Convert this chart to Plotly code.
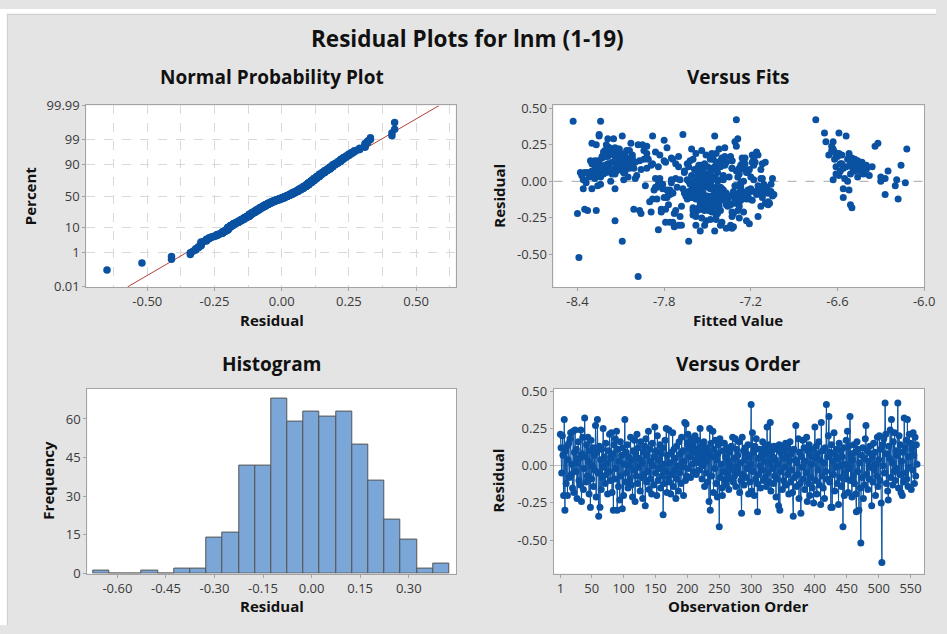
import numpy as np
import plotly.graph_objects as go
from statistics import NormalDist

W, H = 947, 634

# ---------------- data ----------------
residuals = [
    0.21, 0.12, -0.05, 0.20, 0.07, -0.20, 0.31, -0.30, 0.10, -0.12, 0.13, -0.20, 0.04, 0.15, -0.08, 0.18, 0.22, -0.06, 0.01, -0.15,
    0.23, -0.18, 0.09, 0.24, -0.04, 0.11, -0.22, 0.02, 0.16, -0.10, 0.05, -0.13, 0.24, -0.24, 0.08, 0.19, -0.16, -0.02, 0.32, 0.06,
    -0.11, 0.14, -0.07, 0.19, 0.03, -0.19, 0.10, -0.28, 0.17, -0.09, 0.00, 0.12, -0.14, 0.07, -0.03, 0.27, -0.21, 0.09, 0.31, -0.05,
    -0.34, 0.13, -0.28, 0.04, -0.16, 0.11, -0.08, 0.25, -0.01, 0.06, -0.12, 0.15, -0.06, 0.02, -0.19, 0.10, -0.04, 0.21, -0.10, 0.05,
    0.22, -0.18, 0.08, -0.30, 0.14, -0.09, 0.18, -0.02, 0.23, -0.30, 0.11, -0.14, 0.03, -0.23, 0.16, -0.07, 0.07, -0.29, 0.12, -0.20,
    0.01, 0.31, -0.11, 0.09, -0.05, 0.14, -0.15, 0.06, 0.00, -0.09, 0.19, -0.13, 0.04, -0.21, 0.10, -0.03, 0.17, -0.24, 0.08, -0.07,
    0.21, -0.12, 0.12, -0.01, 0.05, -0.17, 0.16, -0.08, 0.02, -0.22, 0.09, -0.06, 0.13, -0.27, 0.18, -0.11, 0.07, -0.04, 0.23, -0.16,
    0.11, -0.09, 0.03, -0.19, 0.15, 0.00, -0.13, 0.06, 0.26, -0.05, 0.10, -0.20, 0.20, -0.10, 0.04, -0.02, 0.14, -0.15, 0.08, -0.07,
    0.12, -0.33, 0.01, -0.12, 0.17, -0.04, 0.25, -0.18, 0.07, -0.08, 0.24, -0.11, 0.02, -0.19, 0.09, -0.06, 0.22, -0.14, 0.11, -0.03,
    0.05, -0.22, 0.13, -0.09, 0.00, -0.17, 0.16, -0.05, 0.08, -0.12, 0.19, -0.01, 0.10, -0.20, 0.03, 0.29, -0.10, 0.28, -0.07, 0.15,
    0.21, -0.02, 0.12, 0.06, -0.08, 0.18, 0.10, 0.01, 0.14, -0.04, 0.09, 0.20, 0.04, -0.06, 0.11, 0.17, 0.02, 0.08, -0.03, 0.25,
    0.13, 0.05, -0.09, 0.10, 0.00, 0.16, -0.14, 0.07, -0.05, 0.12, 0.03, -0.11, 0.09, -0.24, 0.25, -0.30, 0.15, -0.07, 0.06, 0.23,
    -0.18, 0.11, -0.02, 0.17, -0.12, 0.04, -0.21, 0.08, 0.14, -0.41, 0.18, -0.08, 0.01, -0.15, -0.20, 0.10, -0.04, 0.15, -0.10, 0.06,
    -0.13, 0.12, -0.06, 0.03, -0.16, 0.09, 0.00, -0.09, 0.13, -0.03, 0.19, -0.11, 0.05, -0.07, 0.18, -0.14, 0.11, -0.01, 0.07, -0.05,
    0.16, -0.18, 0.02, -0.10, -0.32, 0.19, -0.06, 0.10, -0.13, 0.04, 0.12, -0.08, 0.08, -0.02, 0.14, -0.19, 0.06, -0.11, 0.01, 0.41,
    -0.17, 0.22, -0.04, 0.09, -0.20, 0.13, -0.09, 0.18, -0.12, -0.31, 0.05, -0.06, 0.11, 0.00, -0.15, 0.07, -0.03, 0.16, -0.10, 0.03,
    0.12, -0.08, 0.08, -0.14, 0.26, -0.05, 0.14, -0.11, 0.02, 0.29, -0.17, 0.10, -0.02, 0.06, -0.12, 0.13, -0.07, 0.04, -0.21, 0.11,
    -0.09, 0.01, -0.27, 0.14, -0.30, 0.09, -0.04, 0.13, -0.16, 0.05, -0.10, 0.10, -0.01, 0.15, -0.13, 0.07, -0.06, 0.12, -0.19, 0.03,
    0.16, -0.11, 0.08, -0.03, -0.18, -0.34, 0.11, -0.08, 0.04, 0.27, -0.14, 0.02, -0.06, 0.18, -0.22, 0.09, -0.12, -0.32, 0.06, -0.01,
    0.17, -0.09, 0.12, -0.16, 0.03, -0.05, 0.19, -0.24, 0.10, -0.12, 0.14, -0.20, 0.07, -0.08, 0.01, -0.15, 0.11, -0.25, 0.05, 0.26,
    -0.10, 0.13, -0.19, 0.08, -0.03, 0.16, -0.13, 0.04, -0.26, 0.29, -0.07, 0.10, -0.15, 0.02, -0.22, 0.12, -0.04, 0.41, -0.09, 0.06,
    0.20, 0.33, -0.11, 0.09, -0.28, 0.14, -0.28, 0.03, -0.06, 0.22, -0.17, 0.07, -0.01, 0.11, -0.12, 0.05, -0.26, 0.15, -0.08, 0.00,
    0.10, -0.14, 0.06, -0.41, 0.12, -0.20, 0.01, -0.05, 0.17, -0.09, 0.23, -0.18, 0.13, -0.02, 0.33, -0.10, 0.08, -0.21, 0.04, -0.07,
    0.14, -0.12, 0.09, -0.19, -0.31, 0.16, -0.04, 0.11, -0.30, 0.02, -0.15, -0.52, 0.07, -0.08, 0.12, -0.22, 0.05, -0.13, 0.18, 0.27,
    -0.06, 0.10, -0.16, 0.03, -0.09, 0.13, -0.01, 0.08, -0.27, 0.06, -0.11, 0.15, -0.03, 0.09, -0.20, 0.01, -0.07, 0.19, -0.14, 0.04,
    0.20, -0.10, 0.11, -0.25, -0.65, 0.14, 0.00, 0.18, -0.05, 0.42, 0.21, -0.12, 0.08, -0.17, -0.23, 0.13, 0.05, 0.24, -0.08, 0.31,
    0.02, -0.13, 0.16, -0.04, 0.22, -0.10, 0.10, -0.02, 0.07, 0.42, -0.15, 0.20, -0.06, 0.14, -0.18, 0.03, -0.20, 0.09, -0.11, 0.32,
    0.12, -0.05, 0.17, -0.09, 0.31, -0.14, 0.06, 0.21, -0.01, 0.15, -0.16, 0.11, -0.03, 0.22, 0.07, -0.12, 0.19, -0.07, 0.14, 0.01,
]

fitted = [
    -8.21, -8.05, -7.48, -8.17, -6.58, -7.41, -8.25, -7.58, -8.12, -7.36, -7.79, -8.33, -7.52, -6.62, -7.74, -8.02, -7.61, -7.12, -8.36, -7.55,
    -8.14, -7.47, -7.33, -7.92, -7.56, -8.28, -8.40, -7.86, -7.75, -7.50, -6.51, -7.27, -6.64, -7.69, -8.19, -7.44, -7.08, -7.62, -7.67, -8.08,
    -7.43, -8.31, -7.20, -8.10, -7.46, -7.53, -6.47, -7.74, -8.23, -7.77, -7.59, -7.88, -7.31, -8.13, -7.93, -6.63, -7.25, -7.54, -8.09, -6.56,
    -7.45, -8.16, -7.40, -7.61, -7.49, -7.18, -7.57, -8.20, -7.83, -8.27, -7.64, -7.48, -7.22, -8.00, -8.35, -6.44, -7.71, -7.94, -7.05, -7.28,
    -7.42, -7.60, -8.11, -7.70, -8.06, -7.76, -7.83, -7.11, -8.18, -7.34, -7.56, -7.90, -8.24, -7.44, -7.26, -7.63, -6.49, -7.21, -8.30, -7.52,
    -7.39, -7.88, -7.55, -8.22, -7.81, -7.97, -7.47, -7.66, -6.53, -7.16, -8.15, -7.19, -7.50, -7.89, -7.84, -8.26, -6.60, -7.58, -7.24, -7.45,
    -8.04, -7.40, -7.72, -7.57, -8.32, -7.28, -8.12, -7.07, -7.72, -7.96, -7.25, -7.43, -6.46, -8.14, -7.51, -7.62, -8.07, -7.85, -7.78, -7.46,
    -8.20, -7.54, -7.20, -7.79, -7.60, -8.17, -7.51, -8.35, -6.32, -7.14, -7.45, -7.29, -8.22, -7.65, -6.59, -7.48, -8.03, -7.42, -7.13, -7.56,
    -7.26, -7.84, -7.75, -7.23, -8.19, -7.60, -7.98, -7.52, -8.28, -7.09, -7.30, -7.47, -6.55, -8.01, -7.92, -7.87, -8.11, -7.55, -6.40, -7.31,
    -7.53, -7.73, -8.13, -7.04, -7.25, -7.68, -7.40, -8.30, -7.59, -7.21, -6.52, -7.49, -8.25, -7.57, -7.35, -8.19, -7.61, -7.80, -7.17, -7.46,
    -7.54, -7.81, -8.02, -8.38, -7.13, -7.19, -7.50, -7.64, -8.28, -7.27, -6.56, -7.86, -7.39, -7.45, -8.09, -7.34, -6.27, -7.58, -7.52, -7.95,
    -7.37, -8.16, -7.62, -7.70, -7.43, -8.23, -7.28, -6.48, -7.56, -7.12, -8.05, -7.78, -7.48, -7.15, -8.27, -7.52, -7.91, -7.06, -7.22, -7.38,
    -7.45, -7.27, -7.84, -8.21, -7.58, -8.31, -7.33, -7.47, -7.62, -8.09, -8.12, -7.53, -7.18, -7.10, -7.97, -6.61, -7.44, -7.74, -7.30, -8.20,
    -7.50, -8.18, -7.76, -7.29, -7.37, -8.04, -7.55, -7.24, -6.43, -7.60, -7.47, -7.12, -8.26, -7.32, -8.15, -7.54, -7.38, -8.34, -7.66, -7.20,
    -8.09, -7.51, -7.83, -7.39, -7.37, -7.58, -7.27, -8.11, -7.44, -7.53, -6.58, -7.08, -7.96, -8.24, -7.33, -7.48, -8.29, -7.61, -7.42, -8.43,
    -7.36, -8.17, -7.50, -7.26, -8.27, -7.44, -7.59, -6.66, -7.49, -7.73, -8.14, -7.78, -7.89, -6.30, -7.31, -7.55, -7.15, -8.06, -7.57, -8.32,
    -7.52, -7.74, -8.22, -7.45, -8.30, -7.67, -7.41, -7.56, -7.05, -8.15, -7.43, -6.50, -7.48, -7.23, -7.30, -8.00, -7.54, -8.37, -7.47, -7.40,
    -7.44, -8.08, -7.51, -7.80, -7.68, -7.28, -7.86, -8.25, -7.34, -7.51, -7.62, -6.36, -7.58, -7.18, -7.42, -8.18, -7.11, -7.64, -7.55, -6.46,
    -8.13, -7.80, -7.53, -7.27, -7.43, -7.55, -8.21, -7.37, -7.99, -7.31, -7.50, -7.13, -7.61, -6.57, -7.32, -7.45, -7.26, -7.33, -8.33, -7.48,
    -7.38, -7.57, -8.19, -7.77, -7.56, -8.14, -7.92, -7.33, -6.54, -7.49, -8.26, -7.60, -7.30, -7.43, -7.69, -7.07, -8.10, -7.28, -6.42, -8.03,
    -7.47, -7.17, -7.82, -8.24, -7.49, -8.02, -7.29, -7.57, -7.44, -7.29, -7.54, -7.63, -7.46, -8.28, -7.59, -6.48, -7.09, -8.24, -7.22, -7.43,
    -8.20, -6.69, -7.52, -7.33, -7.76, -8.07, -7.79, -7.45, -7.60, -8.12, -7.42, -8.30, -7.27, -7.55, -7.44, -6.61, -7.48, -7.94, -7.14, -7.51,
    -7.41, -7.53, -8.15, -7.63, -7.24, -7.72, -7.47, -8.36, -7.70, -7.32, -8.18, -7.56, -6.45, -7.06, -6.59, -7.58, -7.21, -7.82, -6.38, -7.45,
    -8.11, -7.85, -7.57, -7.46, -7.32, -7.24, -7.54, -8.05, -7.41, -7.12, -7.50, -8.39, -7.29, -7.66, -6.51, -7.43, -8.22, -7.38, -7.15, -6.68,
    -7.39, -7.26, -7.52, -8.29, -7.44, -7.10, -7.75, -8.16, -7.23, -7.48, -7.61, -6.53, -7.30, -8.01, -7.49, -6.63, -7.57, -8.07, -7.08, -7.56,
    -7.16, -7.40, -8.13, -7.54, -7.98, -7.33, -7.63, -6.61, -7.46, -7.30, -8.06, -7.88, -6.40, -7.13, -7.60, -7.19, -7.52, -6.34, -7.28, -7.45,
    -7.50, -7.31, -6.50, -7.41, -6.63, -7.34, -6.47, -7.58, -6.44, -6.75, -7.36, -6.62, -6.52, -8.14, -6.50, -6.30, -7.48, -7.27, -6.56, -8.25,
    -6.57, -7.40, -6.52, -6.27, -6.54, -7.46, -8.08, -6.64, -6.13, -6.48, -6.51, -6.16, -6.20, -6.12, -6.25, -6.18, -6.59, -7.26, -6.46, -6.19,
]

hist_centers = [-0.65, -0.60, -0.55, -0.50, -0.45, -0.40, -0.35, -0.30, -0.25, -0.20, -0.15,
                -0.10, -0.05, 0.00, 0.05, 0.10, 0.15, 0.20, 0.25, 0.30, 0.35, 0.40]
hist_counts = [1, 0, 0, 1, 0, 2, 2, 14, 16, 42, 42, 68, 59, 63, 61, 63, 50, 36, 21, 13, 2, 4]

percent_ticks = [0.01, 1, 10, 50, 90, 99, 99.99]
percent_labels = ["0.01", "1", "10", "50", "90", "99", "99.99"]

npp_x_ticks = [-0.50, -0.25, 0.00, 0.25, 0.50]
fits_x_ticks = [-8.4, -7.8, -7.2, -6.6, -6.0]
resid_y_ticks = [-0.50, -0.25, 0.00, 0.25, 0.50]
hist_x_ticks = [-0.60, -0.45, -0.30, -0.15, 0.00, 0.15, 0.30]
hist_y_ticks = [0, 15, 30, 45, 60]
order_x_ticks = [1, 50, 100, 150, 200, 250, 300, 350, 400, 450, 500, 550]

# ---------------- derived quantities ----------------
nd = NormalDist()
n = min(len(residuals), len(fitted))
res = np.array(residuals[:n])
fit = np.array(fitted[:n])
obs = np.arange(1, n + 1)

srt = np.sort(res)
zq = [nd.inv_cdf((i - 0.3) / (n + 0.4)) for i in range(1, n + 1)]
mu, sd = float(res.mean()), float(res.std(ddof=1))
z_ticks = [nd.inv_cdf(p / 100.0) for p in percent_ticks]
zlim = z_ticks[-1]
line_z = [-zlim, zlim]
line_x = [mu + sd * z for z in line_z]

# ---------------- styling ----------------
BLUE = "#0A52A1"
FONT = "Open Sans"
TICKFONT = dict(family=FONT, size=13, color="#3A3A3A")
FRAME = "#A3A3A3"


def px(x):
    return x / W


def py(y):
    return 1 - y / H


def axis(**kw):
    d = dict(showline=True, linecolor=FRAME, linewidth=1, mirror=True,
             ticks="outside", ticklen=3, tickcolor=FRAME, tickfont=TICKFONT,
             zeroline=False, showgrid=False, fixedrange=True)
    d.update(kw)
    return d


fig = go.Figure()

# Normal probability plot
fig.add_trace(go.Scatter(x=line_x, y=line_z, mode="lines",
                         line=dict(color="#B5403C", width=1), xaxis="x", yaxis="y",
                         hoverinfo="skip"))
fig.add_trace(go.Scatter(x=srt, y=zq, mode="markers",
                         marker=dict(color=BLUE, size=7.5), xaxis="x", yaxis="y"))

# Versus fits
fig.add_trace(go.Scatter(x=fit, y=res, mode="markers",
                         marker=dict(color=BLUE, size=7), xaxis="x2", yaxis="y2"))

# Histogram
fig.add_trace(go.Bar(x=hist_centers, y=hist_counts, width=0.05,
                     marker=dict(color="#7BA6D8", line=dict(color="#555555", width=1)),
                     xaxis="x3", yaxis="y3"))

# Versus order
fig.add_trace(go.Scatter(x=obs, y=res, mode="lines+markers",
                         line=dict(color=BLUE, width=1),
                         marker=dict(color=BLUE, size=7), xaxis="x4", yaxis="y4"))

fig.update_layout(
    width=W, height=H, autosize=False,
    margin=dict(l=0, r=0, t=0, b=0, pad=0),
    paper_bgcolor="#E4E4E4", plot_bgcolor="white",
    showlegend=False, bargap=0,
    font=dict(family=FONT, color="#222222"),
    xaxis=axis(domain=[px(87.3), px(461)], anchor="y", range=[-0.727, 0.647],
               tickvals=npp_x_ticks, ticktext=[f"{v:.2f}" for v in npp_x_ticks],
               showgrid=True, gridcolor="#D9D9D9", griddash="dash",
               minor=dict(tickvals=[-0.625, -0.375, -0.125, 0.125, 0.375, 0.625],
                          showgrid=True, gridcolor="#D9D9D9", griddash="dash", ticklen=0)),
    yaxis=axis(domain=[py(286), py(99.3)], anchor="x", range=[-zlim, zlim],
               tickvals=z_ticks, ticktext=percent_labels,
               showgrid=True, gridcolor="#D9D9D9", griddash="dash"),
    xaxis2=axis(domain=[px(560), px(935)], anchor="y2", range=[-8.566, -6.0],
                tickvals=fits_x_ticks, ticktext=[f"{v:.1f}" for v in fits_x_ticks]),
    yaxis2=axis(domain=[py(286), py(99.3)], anchor="x2", range=[-0.721, 0.518],
                tickvals=resid_y_ticks, ticktext=[f"{v:.2f}" for v in resid_y_ticks]),
    xaxis3=axis(domain=[px(88.3), px(461.7)], anchor="y3", range=[-0.693, 0.447],
                tickvals=hist_x_ticks, ticktext=[f"{v:.2f}" for v in hist_x_ticks]),
    yaxis3=axis(domain=[py(581), py(390.7)], anchor="x3", range=[0, 71.8],
                tickvals=hist_y_ticks),
    xaxis4=axis(domain=[px(560.3), px(935.3)], anchor="y4", range=[-9.4, 571.7],
                tickvals=order_x_ticks),
    yaxis4=axis(domain=[py(581), py(390.7)], anchor="x4", range=[-0.724, 0.517],
                tickvals=resid_y_ticks, ticktext=[f"{v:.2f}" for v in resid_y_ticks]),
)

# reference lines at zero
fig.add_shape(type="line", xref="x2 domain", yref="y2", x0=0, x1=1, y0=0, y1=0,
              line=dict(color="#A8A8A8", width=1, dash="dash"), layer="below")
fig.add_shape(type="line", xref="x4 domain", yref="y4", x0=0, x1=1, y0=0, y1=0,
              line=dict(color="#BDBDBD", width=1), layer="below")

# white strips outside the grey graph region (top and left), with a thin border
fig.add_shape(type="rect", xref="paper", yref="paper", x0=0, x1=px(7), y0=0, y1=1,
              fillcolor="white", line=dict(width=0), layer="above")
fig.add_shape(type="rect", xref="paper", yref="paper", x0=0, x1=1, y0=py(5), y1=1,
              fillcolor="white", line=dict(width=0), layer="above")
fig.add_shape(type="line", xref="paper", yref="paper", x0=px(7.5), x1=px(7.5), y0=0, y1=py(5),
              line=dict(color="#CFCFCF", width=1), layer="above")
fig.add_shape(type="line", xref="paper", yref="paper", x0=px(7), x1=1, y0=py(5.5), y1=py(5.5),
              line=dict(color="#CFCFCF", width=1), layer="above")


def label(text, x, y, size, angle=0):
    fig.add_annotation(text=f"<b>{text}</b>", x=px(x), y=py(y), xref="paper", yref="paper",
                       xanchor="center", yanchor="middle", showarrow=False, textangle=angle,
                       font=dict(family=FONT, size=size, color="#111111"))


label("Residual Plots for lnm (1-19)", 473, 30, 22.5)
label("Normal Probability Plot", 275, 70, 19)
label("Versus Fits", 747, 70, 19)
label("Histogram", 275, 365, 19)
label("Versus Order", 747, 365, 19)

label("Residual", 275, 320, 15)
label("Percent", 30, 192, 15, -90)
label("Fitted Value", 747, 320, 15)
label("Residual", 504, 192, 15, -90)
label("Residual", 275, 614, 15)
label("Frequency", 49, 485, 15, -90)
label("Observation Order", 747, 614, 15)
label("Residual", 504, 485, 15, -90)

fig.write_html("out.html", config={"displayModeBar": False})
